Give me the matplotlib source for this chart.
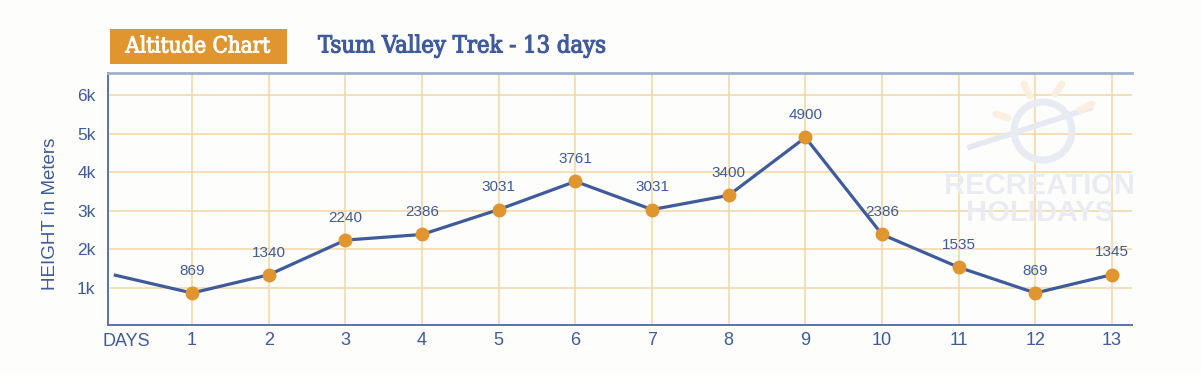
import numpy as np
import matplotlib
matplotlib.use("Agg")
import matplotlib.pyplot as plt
from matplotlib.patches import Rectangle, Ellipse
import matplotlib.patheffects as pe
import matplotlib.transforms as mtransforms

# data
days = [1, 2, 3, 4, 5, 6, 7, 8, 9, 10, 11, 12, 13]
heights = [869, 1340, 2240, 2386, 3031, 3761, 3031, 3400, 4900, 2386, 1535, 869, 1345]
start_height = 1330   # line enters from the left edge at about this level
ytick_vals = [1000, 2000, 3000, 4000, 5000, 6000]
ytick_labels = ["1k", "2k", "3k", "4k", "5k", "6k"]

BLUE = "#3f5b9c"
ORANGE = "#e0952e"
GRID = "#f3d6a6"
BG = "#fdfdfb"
W, H = 1201, 375

plt.rcParams["font.family"] = ["Liberation Sans", "DejaVu Sans"]

fig = plt.figure(figsize=(12.01, 3.75), dpi=100, facecolor=BG)
ax = fig.add_axes([108 / W, 1 - 325 / H, (1132 - 108) / W, (325 - 73) / H])
ax.set_facecolor("none")

# faint watermark logo behind the plot
fig.patches.append(Ellipse((1043 / W, 1 - 131 / H), 58 / W, 58 / H, transform=fig.transFigure,
                           fill=False, lw=5, ec="#e9ebf2", zorder=0))
fig.lines.append(plt.Line2D([970 / W, 1060 / W, 1090 / W], [1 - 147 / H, 1 - 118 / H, 1 - 108 / H],
                            transform=fig.transFigure, color="#e6e9f1", lw=4, zorder=0))
for x0, y0, x1, y1 in [(1030, 96, 1024, 84), (1055, 94, 1062, 84), (1080, 110, 1092, 104),
                       (1008, 118, 996, 114)]:
    fig.lines.append(plt.Line2D([x0 / W, x1 / W], [1 - y0 / H, 1 - y1 / H], transform=fig.transFigure,
                                color="#fbefe0", lw=5, solid_capstyle="round", zorder=0))
fig.text(1040 / W, 1 - 186 / H, "RECREATION", ha="center", va="center",
         fontsize=21, fontweight="bold", color="#eaecf2", zorder=0)
fig.text(1040 / W, 1 - 213 / H, "HOLIDAYS", ha="center", va="center",
         fontsize=21, fontweight="bold", color="#eaecf2", zorder=0)

x_all = [0] + days
y_all = [start_height] + heights
ax.plot(x_all, y_all, color=BLUE, lw=2.3, zorder=3)
ax.plot(days, heights, "o", color=ORANGE, markersize=9, zorder=4)

for d, h in zip(days, heights):
    ax.annotate(str(h), (d, h), xytext=(0, 11), textcoords="offset points",
                ha="center", va="bottom", fontsize=11, color=BLUE)

ax.set_xlim(-0.096, 13.26)
ax.set_ylim(40, 6570)
ax.set_xticks(days)
ax.set_xticklabels([str(d) for d in days], fontsize=13, color=BLUE)
ax.set_yticks(ytick_vals)
ax.set_yticklabels(ytick_labels, fontsize=12.5, color=BLUE)
ax.tick_params(axis="x", length=0, pad=5)
ax.tick_params(axis="y", length=0, pad=9)
ax.grid(True, color=GRID, lw=1.1, zorder=1)
ax.set_axisbelow(True)

trans = mtransforms.blended_transform_factory(ax.transData, ax.transAxes)
ax.text(0.14, -0.033, "DAYS", transform=trans, ha="center", va="top", fontsize=13, color=BLUE)

ax.set_ylabel("HEIGHT in Meters", fontsize=13.5, color=BLUE)
ax.yaxis.set_label_coords((59 - 108) / 1024, 1 - (214 - 73) / 252)

for side in ["left", "bottom"]:
    ax.spines[side].set_color("#5a72ad")
    ax.spines[side].set_linewidth(1.4)
ax.spines["top"].set_color("#9fb0cf")
ax.spines["top"].set_linewidth(2)
ax.spines["right"].set_visible(False)

# header: orange badge and title (thin stroke to get a medium weight)
fig.patches.append(Rectangle((110 / W, 1 - 64 / H), 177 / W, 35 / H,
                             transform=fig.transFigure, facecolor=ORANGE, edgecolor="none"))
fig.text(198 / W, 1 - 46.5 / H, "Altitude Chart", ha="center", va="center",
         fontsize=16, color="white", family="DejaVu Serif", fontstretch="condensed",
         path_effects=[pe.withStroke(linewidth=0.7, foreground="white")])
fig.text(318 / W, 1 - 46 / H, "Tsum Valley Trek - 13 days", ha="left", va="center",
         fontsize=17, color=BLUE, family="DejaVu Serif", fontstretch="condensed",
         path_effects=[pe.withStroke(linewidth=0.8, foreground=BLUE)])

fig.savefig("out.png", dpi=100, facecolor=BG)
